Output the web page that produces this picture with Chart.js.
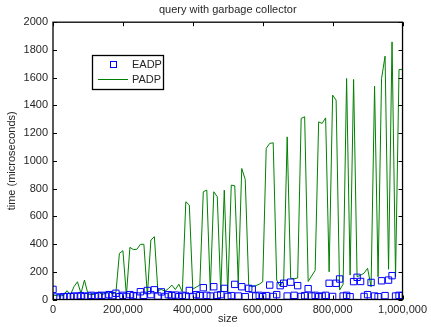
<!DOCTYPE html>
<html>
<head>
<meta charset="utf-8">
<script src="https://cdn.jsdelivr.net/npm/chart.js@4"></script>
<style>
  html, body { margin: 0; padding: 0; background: #fff; }
  #wrap { width: 431px; height: 327px; }
</style>
</head>
<body>
<div id="wrap"><canvas id="chartQuery" width="431" height="327"></canvas></div>
<script>
// Ukuran input: 0 .. 1.000.000, langkah 10.000 (101 titik)
const sizes = Array.from({ length: 101 }, (_, i) => i * 10000);

// Waktu query PADP (mikrodetik)
const padp = [
  32, 28, 25, 30, 64, 35, 92, 128, 45, 140,
  40, 35, 38, 55, 35, 45, 58, 40, 50, 333,
  352, 30, 376, 360, 362, 398, 398, 30, 429, 453,
  65, 72, 60, 78, 104, 72, 110, 55, 705, 681,
  75, 90, 104, 777, 789, 65, 777, 741, 50, 789,
  45, 825, 820, 117, 945, 866, 104, 92, 100, 110,
  128, 1090, 1126, 1130, 140, 95, 140, 1173, 153, 150,
  155, 1306, 1318, 130, 170, 210, 1281, 1270, 1310, 200,
  1474, 1438, 68, 110, 1594, 176, 1587, 164, 175, 190,
  225, 92, 1539, 164, 1594, 1755, 218, 1858, 164, 1659,
  1659
];

// Waktu query EADP (mikrodetik)
const eadp = [
  73, 18, 15, 20, 22, 20, 25, 22, 28, 20,
  25, 30, 22, 28, 30, 25, 35, 28, 45, 20,
  30, 22, 35, 28, 25, 56, 30, 65, 35, 70,
  25, 55, 22, 35, 28, 32, 20, 30, 25, 65,
  22, 35, 28, 85, 30, 25, 92, 30, 35, 80,
  22, 28, 109, 25, 92, 20, 80, 75, 25, 30,
  20, 28, 104, 22, 35, 100, 117, 25, 125, 30,
  100, 22, 28, 78, 25, 30, 20, 25, 30, 117,
  22, 117, 148, 25, 30, 20, 129, 160, 130, 22,
  35, 123, 25, 20, 135, 28, 140, 172, 25, 30,
  28
];

const xTicks = [0, 200000, 400000, 600000, 800000, 1000000];
const yTicks = [0, 200, 400, 600, 800, 1000, 1200, 1400, 1600, 1800, 2000];

const fontUtama = "'Liberation Sans', Arial, Helvetica, sans-serif";
const warnaTeks = '#262626';

// Kotak sumbu + tick ke dalam + legenda di dalam area plot
const bingkaiPlugin = {
  id: 'bingkai',
  afterDatasetsDraw(chart) {
    const { ctx, chartArea: a, scales: { x, y } } = chart;
    ctx.save();
    ctx.strokeStyle = '#000';
    ctx.lineWidth = 1.3;
    ctx.strokeRect(a.left, a.top, a.right - a.left, a.bottom - a.top);

    ctx.lineWidth = 1;
    ctx.beginPath();
    xTicks.forEach(v => {
      const px = Math.round(x.getPixelForValue(v)) + 0.5;
      ctx.moveTo(px, a.bottom); ctx.lineTo(px, a.bottom - 4);
      ctx.moveTo(px, a.top); ctx.lineTo(px, a.top + 4);
    });
    yTicks.forEach(v => {
      const py = Math.round(y.getPixelForValue(v)) + 0.5;
      ctx.moveTo(a.left, py); ctx.lineTo(a.left + 4, py);
      ctx.moveTo(a.right, py); ctx.lineTo(a.right - 4, py);
    });
    ctx.stroke();

    // legenda
    const lx = 92.5, ly = 55.5, lw = 71, lh = 34;
    ctx.fillStyle = '#fff';
    ctx.fillRect(lx, ly, lw, lh);
    ctx.strokeStyle = '#000';
    ctx.lineWidth = 1.3;
    ctx.strokeRect(lx, ly, lw, lh);

    const dsE = chart.data.datasets[0];
    const dsP = chart.data.datasets[1];
    ctx.strokeStyle = dsE.borderColor;
    ctx.lineWidth = 1;
    ctx.strokeRect(110.5, 61.5, 6, 6);

    ctx.strokeStyle = dsP.borderColor;
    ctx.beginPath();
    ctx.moveTo(98, 79.5); ctx.lineTo(128, 79.5);
    ctx.stroke();

    ctx.fillStyle = warnaTeks;
    ctx.font = '11px ' + fontUtama;
    ctx.textBaseline = 'middle';
    ctx.textAlign = 'left';
    ctx.fillText(dsE.label, 132, 64.5);
    ctx.fillText(dsP.label, 132, 79.5);
    ctx.restore();
  }
};

const ctx = document.getElementById('chartQuery').getContext('2d');

new Chart(ctx, {
  type: 'scatter',
  data: {
    datasets: [
      {
        label: 'EADP',
        data: sizes.map((s, i) => ({ x: s, y: eadp[i] })),
        showLine: false,
        pointStyle: 'rect',
        pointRadius: 4.5,
        pointBorderWidth: 1,
        borderColor: '#0000ff',
        backgroundColor: 'rgba(0,0,0,0)'
      },
      {
        label: 'PADP',
        data: sizes.map((s, i) => ({ x: s, y: padp[i] })),
        showLine: true,
        pointRadius: 0,
        borderWidth: 1,
        borderColor: '#008000',
        backgroundColor: '#008000',
        tension: 0
      }
    ]
  },
  options: {
    responsive: false,
    animation: false,
    events: [],
    layout: { padding: { top: 0, right: 26, left: 0, bottom: 0 } },
    plugins: {
      legend: { display: false },
      tooltip: { enabled: false },
      title: {
        display: true,
        text: 'query with garbage collector',
        fullSize: false,
        color: warnaTeks,
        font: { family: fontUtama, size: 11, weight: 'normal' },
        padding: { top: 3, bottom: 6 }
      }
    },
    scales: {
      x: {
        type: 'linear',
        min: 0,
        max: 1000000,
        afterFit: scale => { scale.height = 27.5; },
        afterBuildTicks: scale => { scale.ticks = xTicks.map(v => ({ value: v })); },
        grid: { display: false, drawTicks: false, tickLength: 0 },
        border: { display: false },
        ticks: {
          autoSkip: false,
          maxRotation: 0,
          padding: 4,
          color: warnaTeks,
          font: { family: fontUtama, size: 11 },
          callback: v => Number(v).toLocaleString('en-US')
        },
        title: {
          display: true,
          text: 'size',
          color: warnaTeks,
          font: { family: fontUtama, size: 11 },
          padding: { top: 0, bottom: 1 }
        }
      },
      y: {
        type: 'linear',
        min: 0,
        max: 2000,
        afterFit: scale => { scale.width = 53; },
        afterBuildTicks: scale => { scale.ticks = yTicks.map(v => ({ value: v })); },
        grid: { display: false, drawTicks: false, tickLength: 0 },
        border: { display: false },
        ticks: {
          autoSkip: false,
          padding: 5,
          color: warnaTeks,
          font: { family: fontUtama, size: 11 },
          callback: v => String(v)
        },
        title: {
          display: true,
          text: 'time (microseconds)',
          color: warnaTeks,
          font: { family: fontUtama, size: 11 },
          padding: { top: 5, bottom: 0 }
        }
      }
    }
  },
  plugins: [bingkaiPlugin]
});
</script>
</body>
</html>
